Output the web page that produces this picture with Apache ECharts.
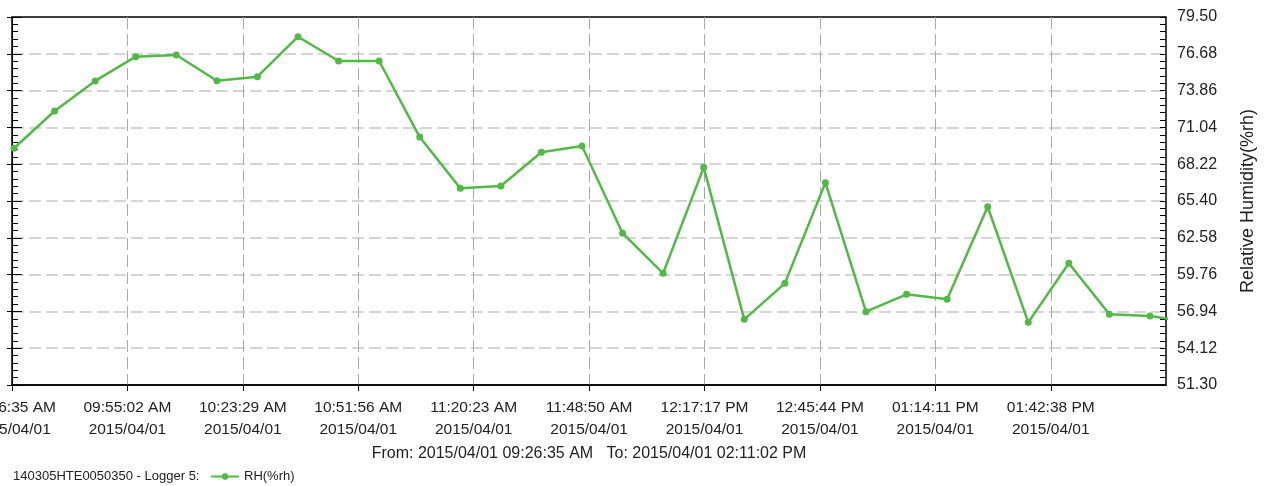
<!DOCTYPE html>
<html>
<head>
<meta charset="utf-8">
<title>Logger 5 - RH</title>
<script src="https://cdn.jsdelivr.net/npm/echarts@6/dist/echarts.min.js"></script>
<style>
  html, body { margin: 0; padding: 0; background: #fff; }
  #chart { width: 1267px; height: 486px; }
</style>
</head>
<body>
<div id="chart"></div>
<script>
// samples every 10 min, the last one lies past "To" and gets clipped by the grid
var sampleTimes = [
  '09:27:05', '09:37:05', '09:47:05', '09:57:05', '10:07:05', '10:17:05',
  '10:27:05', '10:37:05', '10:47:05', '10:57:05', '11:07:05', '11:17:05',
  '11:27:05', '11:37:05', '11:47:05', '11:57:05', '12:07:05', '12:17:05',
  '12:27:05', '12:37:05', '12:47:05', '12:57:05', '13:07:05', '13:17:05',
  '13:27:05', '13:37:05', '13:47:05', '13:57:05', '14:07:05', '14:17:05'
]
var rhValues = [
  69.44, 72.30, 74.60, 76.46, 76.59, 74.62,
  74.93, 77.99, 76.13, 76.13, 70.30, 66.37,
  66.55, 69.13, 69.62, 62.93, 59.86, 67.98,
  56.33, 59.09, 66.80, 56.92, 58.25, 57.87,
  64.96, 56.10, 60.63, 56.72, 56.59, 56.10
]

// x axis: From/To and a label every 28:27
var fromTime = '09:26:35'
var toTime = '14:11:02'
var xStepSec = 1707
var xTickLabels = [
  '09:26:35 AM', '09:55:02 AM', '10:23:29 AM', '10:51:56 AM', '11:20:23 AM',
  '11:48:50 AM', '12:17:17 PM', '12:45:44 PM', '01:14:11 PM', '01:42:38 PM'
]
var dateLabel = '2015/04/01'
var xAxisTitle = 'From: 2015/04/01 09:26:35 AM   To: 2015/04/01 02:11:02 PM'

// y axis (right): 51.30 .. 79.50 step 2.82
var yMin = 51.30
var yStep = 2.82
var yTickLabels = ['51.30', '54.12', '56.94', '59.76', '62.58', '65.40', '68.22', '71.04', '73.86', '76.68', '79.50']
var yAxisTitle = 'Relative Humidity(%rh)'

var seriesName = 'RH(%rh)'
var loggerName = '140305HTE0050350 - Logger 5:'

var font = '"Liberation Sans", Arial, sans-serif'
var green = '#52b947'

function toSec(t) {
  var p = t.split(':')
  return (+p[0]) * 3600 + (+p[1]) * 60 + (+p[2])
}

// axes run in "seconds since From" and "steps above yMin" so ticks start at min
var startSec = toSec(fromTime)
var spanSec = toSec(toTime) - startSec
var ySteps = yTickLabels.length - 1

var points = sampleTimes.map(function(t, i) {
  return [toSec(t) - startSec, (rhValues[i] - yMin) / yStep]
})

var chart = echarts.init(document.getElementById('chart'), null, { renderer: 'canvas' })

// extra right/left axes only carry the small tick marks
function tickAxis(pos, inside, len, minor) {
  return {
    type: 'value',
    position: pos,
    min: 0,
    max: ySteps,
    interval: 1,
    axisLine: { show: false },
    axisTick: { show: true, inside: inside, length: len, lineStyle: { color: '#000', width: 1 } },
    minorTick: { show: minor, splitNumber: 5, length: len, lineStyle: { color: '#000', width: 1 } },
    axisLabel: { show: false },
    splitLine: { show: false }
  }
}

chart.setOption({
  animation: false,
  backgroundColor: '#fff',
  textStyle: { fontFamily: font },
  grid: {
    left: 12,
    right: 101,
    top: 17,
    bottom: 101,
    show: true,
    borderColor: '#000',
    borderWidth: 1.5,
    outerBoundsMode: 'none'
  },
  xAxis: {
    type: 'value',
    min: 0,
    max: spanSec,
    interval: xStepSec,
    axisLine: { show: true, lineStyle: { color: '#000', width: 1.5 } },
    axisTick: { show: true, length: 6, lineStyle: { color: '#000', width: 1 } },
    axisLabel: {
      margin: 12,
      fontSize: 15.5,
      lineHeight: 22,
      color: '#222',
      showMinLabel: true,
      showMaxLabel: false,
      hideOverlap: false,
      formatter: function(val) {
        var lbl = xTickLabels[Math.round(val / xStepSec)]
        return lbl ? lbl + '\n' + dateLabel : ''
      }
    },
    splitLine: {
      show: true,
      showMinLine: false,
      showMaxLine: false,
      lineStyle: { color: '#a8a8a8', width: 1, type: [12, 5] }
    },
    name: xAxisTitle,
    nameLocation: 'middle',
    nameGap: 59,
    nameTextStyle: { fontSize: 16, color: '#222' }
  },
  yAxis: [
    {
      type: 'value',
      position: 'right',
      min: 0,
      max: ySteps,
      interval: 1,
      axisLine: { show: true, lineStyle: { color: '#000', width: 1 } },
      axisTick: { show: true, inside: false, length: 10, lineStyle: { color: '#000', width: 1 } },
      axisLabel: {
        margin: 11,
        fontSize: 16,
        color: '#222',
        showMinLabel: true,
        showMaxLabel: true,
        formatter: function(val) {
          return yTickLabels[Math.round(val)] || ''
        }
      },
      splitLine: {
        show: true,
        showMinLine: false,
        showMaxLine: false,
        lineStyle: { color: '#c8c8c8', width: 1.5, type: [12, 5] }
      },
      name: yAxisTitle,
      nameLocation: 'middle',
      nameRotate: 90,
      nameGap: 73,
      nameTextStyle: { fontSize: 18, color: '#222' }
    },
    tickAxis('right', true, 6, true),
    tickAxis('left', true, 6, true),
    tickAxis('left', false, 5, false)
  ],
  legend: {
    data: [seriesName],
    left: 210,
    top: 470,
    itemWidth: 28,
    itemHeight: 8,
    itemGap: 5,
    padding: 0,
    textStyle: { fontSize: 13, color: '#222' }
  },
  graphic: [
    {
      type: 'text',
      left: 13,
      top: 470,
      style: { text: loggerName, fontSize: 13, fill: '#222', fontFamily: font }
    }
  ],
  series: [
    {
      name: seriesName,
      type: 'line',
      xAxisIndex: 0,
      yAxisIndex: 0,
      data: points,
      clip: true,
      symbol: 'circle',
      symbolSize: 7,
      showAllSymbol: true,
      itemStyle: { color: green },
      lineStyle: { color: green, width: 2.5 }
    }
  ]
})
</script>
</body>
</html>
